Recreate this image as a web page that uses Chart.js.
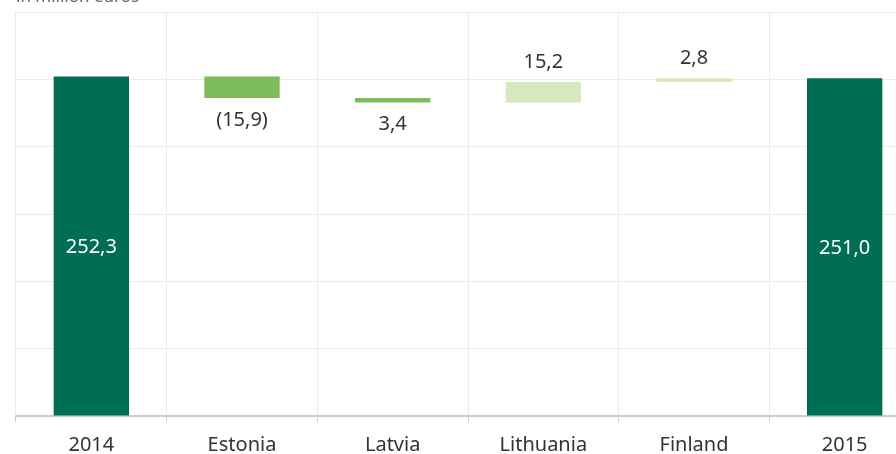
<!DOCTYPE html>
<html lang="en">
<head>
    <meta charset="UTF-8">
    <title>Waterfall 2014-2015</title>
    <script src="https://cdn.jsdelivr.net/npm/chart.js"></script>
    <style>
        body { margin: 0; overflow: hidden; background: #fff; }
        #wrap { position: absolute; left: 0; top: -16px; width: 920px; height: 484px; }
    </style>
</head>
<body>
    <div id="wrap"><canvas id="waterfall"></canvas></div>

    <script>
        const categories = ["2014", "Estonia", "Latvia", "Lithuania", "Finland", "2015"];
        const startTotal = 252.3;
        const endTotal = 251.0;
        const changes = [-15.9, -3.4, 15.2, 2.8]; // Estonia, Latvia, Lithuania, Finland
        const labels = ["252,3", "(15,9)", "3,4", "15,2", "2,8", "251,0"];
        const yTicks = [0, 50, 100, 150, 200, 250, 300];

        // floating bars: totals from 0, changes from running level
        const ranges = [[0, startTotal]];
        let level = startTotal;
        changes.forEach(c => {
            ranges.push([level, level + c].sort((a, b) => a - b));
            level = level + c;
        });
        ranges.push([0, endTotal]);

        const colors = ranges.map((r, i) => {
            if (i === 0 || i === ranges.length - 1) return "#006e54";
            return changes[i - 1] < 0 ? "#7dbb5b" : "#d7e8bd";
        });

        const barLabels = {
            id: "barLabels",
            afterDatasetsDraw(chart) {
                const ctx = chart.ctx;
                const meta = chart.getDatasetMeta(0);
                ctx.save();
                ctx.font = "20px 'Noto Sans'";
                ctx.textAlign = "center";
                ctx.textBaseline = "middle";
                meta.data.forEach((bar, i) => {
                    const top = Math.min(bar.y, bar.base);
                    const bottom = Math.max(bar.y, bar.base);
                    if (i === 0 || i === meta.data.length - 1) {
                        ctx.fillStyle = "#ffffff";
                        ctx.fillText(labels[i], bar.x, (top + bottom) / 2 + 1);
                    } else if (changes[i - 1] < 0) {
                        ctx.fillStyle = "#333333";
                        ctx.fillText(labels[i], bar.x, bottom + 22);
                    } else {
                        ctx.fillStyle = "#333333";
                        ctx.fillText(labels[i], bar.x, top - 20);
                    }
                });
                ctx.restore();
            }
        };

        new Chart(document.getElementById("waterfall"), {
            type: "bar",
            data: {
                labels: categories,
                datasets: [{
                    data: ranges,
                    backgroundColor: colors,
                    barPercentage: 0.5,
                    categoryPercentage: 1.0
                }]
            },
            options: {
                responsive: true,
                maintainAspectRatio: false,
                animation: false,
                layout: { padding: { left: 16, right: 0, top: 0, bottom: 0 } },
                plugins: {
                    legend: { display: false },
                    tooltip: { enabled: false },
                    title: {
                        display: true,
                        text: "in million euros",
                        align: "start",
                        color: "#666666",
                        font: { family: "'Noto Sans'", size: 17, weight: "normal" },
                        padding: { top: 3, bottom: 5 }
                    }
                },
                scales: {
                    x: {
                        grid: { color: "#ebebeb", offset: true, tickLength: 6, tickColor: "#cccccc" },
                        border: { color: "#cccccc", width: 2 },
                        ticks: {
                            color: "#333333",
                            padding: 11,
                            font: { family: "'Noto Sans'", size: 20 }
                        }
                    },
                    y: {
                        min: 0,
                        max: 300,
                        afterBuildTicks: axis => { axis.ticks = yTicks.map(v => ({ value: v })); },
                        ticks: { display: false },
                        grid: { color: "#ebebeb", drawTicks: false },
                        border: { display: false }
                    }
                }
            },
            plugins: [barLabels]
        });
    </script>
</body>
</html>
